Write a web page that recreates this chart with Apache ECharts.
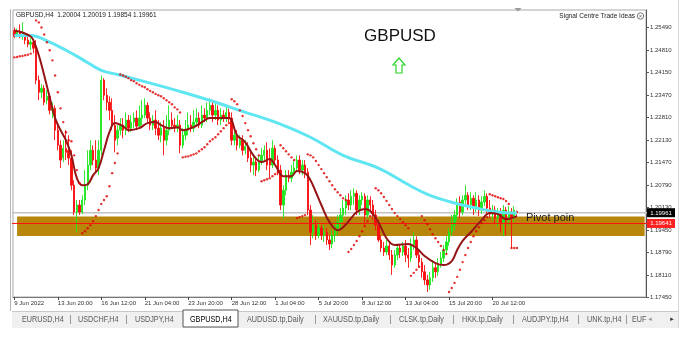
<!DOCTYPE html>
<html><head><meta charset="utf-8">
<script src="https://cdn.jsdelivr.net/npm/echarts@6/dist/echarts.min.js"></script>
<style>html,body{margin:0;padding:0;background:#fff}#c{width:688px;height:346px}</style>
</head><body><div id="c"></div>
<script>
// ---------------- DATA ----------------
const symbol = 'GBPUSD';
const timeframe = 'H4';
const lastQuote = ['1.20004', '1.20019', '1.19854', '1.19961'];
const brandText = 'Signal Centre Trade Ideas';
const pivotText = 'Pivot poin';
const xTickLabels = ['9 Jun 2022', '13 Jun 20:00', '16 Jun 12:00', '21 Jun 04:00', '23 Jun 20:00',
  '28 Jun 12:00', '1 Jul 04:00', '5 Jul 20:00', '8 Jul 12:00', '13 Jul 04:00', '15 Jul 20:00', '20 Jul 12:00'];
const xTickStep = 16; // bars between time labels
const yTickValues = [1.17450, 1.18110, 1.18790, 1.19450, 1.20130, 1.20790, 1.21470,
  1.22130, 1.22810, 1.23470, 1.24150, 1.24810, 1.25490];
const bidPrice = 1.19961;
const pivotPrice = 1.19641;
const pivotZone = [1.19265, 1.19845];
const tabs = ['EURUSD,H4', 'USDCHF,H4', 'USDJPY,H4', 'GBPUSD,H4', 'AUDUSD.tp,Daily', 'XAUUSD.tp,Daily',
  'CLSK.tp,Daily', 'HKK.tp,Daily', 'AUDJPY.tp,H4', 'UNK.tp,H4', 'EUF'];
const activeTab = 'GBPUSD,H4';

// H4 candles: [open, close, low, high]
const candles = [
[1.2539,1.2521,1.2516,1.2548],[1.2524,1.2536,1.2519,1.2545],[1.2536,1.2521,1.2516,1.2557],[1.2521,1.2527,1.2510,1.2563],
[1.2527,1.2510,1.2498,1.2533],[1.2510,1.2498,1.2489,1.2521],[1.2498,1.2504,1.2480,1.2516],[1.2504,1.2486,1.2471,1.2510],
[1.2492,1.2391,1.2379,1.2510],[1.2391,1.2355,1.2331,1.2405],[1.2355,1.2367,1.2337,1.2379],[1.2367,1.2325,1.2316,1.2376],
[1.2331,1.2343,1.2319,1.2361],[1.2343,1.2301,1.2289,1.2352],[1.2301,1.2307,1.2278,1.2325],[1.2307,1.2242,1.2212,1.2316],
[1.2242,1.2197,1.2182,1.2257],[1.2197,1.2153,1.2129,1.2212],[1.2159,1.2188,1.2147,1.2212],[1.2188,1.2176,1.2153,1.2242],
[1.2182,1.2159,1.2138,1.2227],[1.2159,1.2078,1.2063,1.2182],[1.2078,1.1998,1.1989,1.2093],[1.1998,1.2019,1.1938,1.2034],
[1.2019,1.1998,1.1989,1.2034],[1.1998,1.2034,1.1992,1.2048],[1.2034,1.2078,1.2019,1.2123],[1.2078,1.2138,1.2063,1.2182],
[1.2138,1.2182,1.2123,1.2212],[1.2182,1.2153,1.2138,1.2197],[1.2153,1.2129,1.2117,1.2212],[1.2129,1.2182,1.2108,1.2212],
[1.2182,1.2391,1.2167,1.2405],[1.2391,1.2346,1.2331,1.2397],[1.2346,1.2325,1.2301,1.2367],[1.2325,1.2301,1.2272,1.2343],
[1.2301,1.2257,1.2242,1.2337],[1.2257,1.2212,1.2176,1.2287],[1.2218,1.2242,1.2197,1.2257],[1.2242,1.2257,1.2227,1.2278],
[1.2257,1.2242,1.2218,1.2278],[1.2242,1.2272,1.2227,1.2295],[1.2272,1.2248,1.2236,1.2287],[1.2248,1.2266,1.2236,1.2287],
[1.2266,1.2278,1.2248,1.2295],[1.2278,1.2254,1.2242,1.2301],[1.2254,1.2278,1.2248,1.2316],[1.2278,1.2287,1.2257,1.2331],
[1.2287,1.2316,1.2278,1.2337],[1.2316,1.2278,1.2266,1.2325],[1.2278,1.2257,1.2242,1.2295],[1.2257,1.2272,1.2242,1.2287],
[1.2272,1.2248,1.2227,1.2301],[1.2248,1.2227,1.2212,1.2272],[1.2227,1.2248,1.2206,1.2266],[1.2248,1.2212,1.2167,1.2272],
[1.2212,1.2242,1.2197,1.2287],[1.2242,1.2272,1.2227,1.2316],[1.2272,1.2257,1.2248,1.2295],[1.2257,1.2248,1.2236,1.2278],
[1.2248,1.2257,1.2236,1.2287],[1.2257,1.2197,1.2173,1.2272],[1.2197,1.2227,1.2188,1.2248],[1.2227,1.2242,1.2212,1.2272],
[1.2242,1.2257,1.2227,1.2295],[1.2257,1.2248,1.2236,1.2287],[1.2248,1.2266,1.2236,1.2301],[1.2266,1.2278,1.2254,1.2307],
[1.2278,1.2257,1.2248,1.2295],[1.2257,1.2287,1.2248,1.2316],[1.2287,1.2278,1.2266,1.2307],[1.2278,1.2301,1.2266,1.2325],
[1.2301,1.2316,1.2287,1.2337],[1.2316,1.2287,1.2266,1.2331],[1.2287,1.2301,1.2272,1.2325],[1.2301,1.2272,1.2257,1.2316],
[1.2272,1.2287,1.2257,1.2307],[1.2287,1.2278,1.2266,1.2301],[1.2278,1.2295,1.2266,1.2316],[1.2295,1.2278,1.2266,1.2307],
[1.2278,1.2212,1.2197,1.2295],[1.2212,1.2227,1.2197,1.2248],[1.2227,1.2197,1.2182,1.2242],[1.2197,1.2212,1.2188,1.2227],
[1.2212,1.2182,1.2167,1.2227],[1.2182,1.2194,1.2170,1.2212],[1.2194,1.2159,1.2147,1.2206],[1.2159,1.2138,1.2117,1.2182],
[1.2138,1.2147,1.2108,1.2167],[1.2147,1.2123,1.2105,1.2159],[1.2123,1.2147,1.2117,1.2167],[1.2147,1.2167,1.2138,1.2188],
[1.2167,1.2182,1.2153,1.2197],[1.2182,1.2138,1.2123,1.2206],[1.2159,1.2138,1.2102,1.2188],[1.2138,1.2188,1.2129,1.2212],
[1.2188,1.2153,1.2138,1.2197],[1.2153,1.2123,1.2108,1.2167],[1.2123,1.2019,1.2004,1.2138],[1.2019,1.2063,1.1980,1.2078],
[1.2063,1.2108,1.2048,1.2123],[1.2108,1.2099,1.2087,1.2123],[1.2099,1.2117,1.2087,1.2138],[1.2117,1.2129,1.2105,1.2153],
[1.2129,1.2153,1.2117,1.2167],[1.2153,1.2123,1.2111,1.2167],[1.2123,1.2138,1.2108,1.2153],[1.2138,1.2117,1.2099,1.2153],
[1.2117,1.2004,1.1989,1.2129],[1.2004,1.1938,1.1900,1.2019],[1.1938,1.1959,1.1920,1.1989],[1.1959,1.1929,1.1915,1.1974],
[1.1929,1.1950,1.1920,1.1968],[1.1950,1.1929,1.1915,1.1959],[1.1929,1.1938,1.1909,1.1959],[1.1938,1.1915,1.1900,1.1950],
[1.1915,1.1903,1.1885,1.1929],[1.1903,1.1929,1.1891,1.1944],[1.1929,1.1950,1.1909,1.1968],[1.1950,1.1968,1.1929,1.1989],
[1.1968,1.1989,1.1950,1.2010],[1.1989,1.2010,1.1968,1.2034],[1.2010,1.2034,1.1989,1.2048],[1.2034,1.2019,1.2004,1.2054],
[1.2019,1.2045,1.2004,1.2063],[1.2045,1.2054,1.2019,1.2069],[1.2054,1.2004,1.1989,1.2063],[1.2004,1.2034,1.1989,1.2048],
[1.2034,1.2045,1.2019,1.2057],[1.2045,1.1989,1.1959,1.2054],[1.1989,1.2034,1.1980,1.2048],[1.2034,1.2019,1.2004,1.2045],
[1.2019,1.1989,1.1974,1.2034],[1.1989,1.1959,1.1944,1.2004],[1.1959,1.1915,1.1909,1.1974],[1.1915,1.1891,1.1879,1.1929],
[1.1891,1.1879,1.1867,1.1909],[1.1879,1.1897,1.1870,1.1915],[1.1897,1.1870,1.1855,1.1909],[1.1870,1.1840,1.1811,1.1885],
[1.1840,1.1870,1.1832,1.1885],[1.1870,1.1891,1.1855,1.1900],[1.1891,1.1879,1.1861,1.1903],[1.1879,1.1897,1.1867,1.1909],
[1.1897,1.1870,1.1849,1.1915],[1.1870,1.1861,1.1832,1.1891],[1.1861,1.1900,1.1849,1.1920],[1.1900,1.1915,1.1885,1.1938],
[1.1915,1.1870,1.1861,1.1926],[1.1870,1.1849,1.1832,1.1885],[1.1849,1.1820,1.1802,1.1861],[1.1820,1.1796,1.1781,1.1840],
[1.1796,1.1781,1.1760,1.1811],[1.1781,1.1802,1.1766,1.1820],[1.1802,1.1832,1.1790,1.1855],[1.1832,1.1820,1.1802,1.1849],
[1.1820,1.1843,1.1808,1.1861],[1.1843,1.1861,1.1832,1.1879],[1.1861,1.1885,1.1849,1.1900],[1.1885,1.1909,1.1873,1.1926],
[1.1909,1.1938,1.1897,1.1950],[1.1938,1.1959,1.1926,1.1989],[1.1959,1.1989,1.1944,1.2004],[1.1989,1.2028,1.1974,1.2039],
[1.2028,1.1998,1.1980,1.2045],[1.1998,1.2034,1.1989,1.2048],[1.2034,1.2048,1.2016,1.2078],[1.2048,1.2019,1.2004,1.2057],
[1.2019,1.2039,1.2004,1.2057],[1.2039,1.2010,1.1989,1.2048],[1.2010,1.2034,1.1998,1.2057],[1.2034,1.2004,1.1986,1.2048],
[1.2004,1.2028,1.1992,1.2045],[1.2028,1.2045,1.2016,1.2063],[1.2045,1.2010,1.1995,1.2054],[1.2010,1.1992,1.1980,1.2034],
[1.1992,1.2004,1.1974,1.2019],[1.2004,1.1980,1.1962,1.2016],[1.1980,1.1998,1.1956,1.2010],[1.1998,1.1968,1.1938,1.2010],
[1.1968,1.2004,1.1926,1.2019],[1.2004,1.1974,1.1929,1.2013],[1.1974,1.1998,1.1959,1.2016],[1.1998,1.1980,1.1891,1.2010],
[1.1980,1.2004,1.1968,1.2016],[1.20004,1.19961,1.19854,1.20019]
];

// Long moving average (cyan), read at bar indices
const maSlow = [[0,1.2524],[6,1.2524],[13,1.2504],[19,1.2480],[25,1.2453],[32,1.2420],[38,1.2408],[50,1.2382],
  [62,1.2355],[73,1.2328],[84,1.2298],[97,1.2263],[109,1.2221],[121,1.2167],[134,1.2129],[146,1.2075],
  [153,1.2048],[162,1.2025],[170,1.2010],[178,1.1998],[185,1.1995]];
// Short moving average (dark red)
const maFast = [[0,1.2539],[3,1.2533],[6,1.2521],[7,1.2510],[9,1.2465],[11,1.2405],[13,1.2340],[15,1.2278],
  [17,1.2242],[19,1.2212],[21,1.2167],[23,1.2099],[25,1.2078],[27,1.2081],[29,1.2108],[31,1.2129],[33,1.2182],
  [35,1.2236],[37,1.2263],[40,1.2254],[42,1.2242],[46,1.2248],[49,1.2263],[52,1.2266],[54,1.2257],[57,1.2248],
  [60,1.2251],[62,1.2242],[66,1.2251],[69,1.2266],[72,1.2278],[76,1.2278],[79,1.2278],[82,1.2227],[85,1.2206],
  [88,1.2167],[91,1.2147],[94,1.2156],[96,1.2138],[99,1.2105],[102,1.2105],[104,1.2120],[107,1.2114],[109,1.2093],
  [111,1.2057],[113,1.2019],[116,1.1968],[119,1.1944],[121,1.1953],[124,1.1980],[126,1.1998],[129,1.2007],
  [131,1.2001],[134,1.1968],[137,1.1920],[140,1.1900],[145,1.1903],[148,1.1891],[151,1.1867],[155,1.1846],
  [158,1.1840],[161,1.1852],[163,1.1885],[165,1.1912],[168,1.1938],[172,1.1974],[175,1.1995],[178,1.1992],
  [181,1.1977],[185,1.1986]];
// Parabolic SAR: [first bar index, values per bar]
const sarSegments = [
  [0,   [1.2459,1.2460,1.2462,1.2463,1.2465,1.2467,1.2470]],
  [8,   [1.2569,1.2563,1.2548,1.2527,1.2504,1.2480,1.2450,1.2405,1.2355,1.2307,1.2266,1.2236,1.2212,1.2209,1.2167,1.2123,1.2084]],
  [25,  [1.1935,1.1941,1.1950,1.1959,1.1971,1.1986,1.2004,1.2022,1.2034,1.2045,1.2075,1.2114,1.2144,1.2173]],
  [39,  [1.2408,1.2405,1.2401,1.2397,1.2391,1.2388,1.2382,1.2377,1.2373,1.2370,1.2364,1.2359,1.2355,1.2350,1.2346,1.2343,1.2337,1.2331,1.2325,1.2319,1.2310,1.2304,1.2295]],
  [62,  [1.2161,1.2163,1.2164,1.2167,1.2170,1.2173,1.2179,1.2185,1.2191,1.2200,1.2209,1.2215,1.2221,1.2230,1.2239,1.2248,1.2257,1.2263]],
  [80,  [1.2334,1.2328,1.2319,1.2301,1.2284,1.2263,1.2242,1.2224,1.2203,1.2185,1.2167]],
  [91,  [1.2090,1.2093,1.2096,1.2099,1.2105,1.2111,1.2117]],
  [98,  [1.2197,1.2188,1.2179,1.2170,1.2161,1.2153]],
  [104, [1.1980,1.1983,1.1986,1.1989]],
  [108, [1.2170,1.2167,1.2161,1.2150,1.2138,1.2126,1.2114,1.2102,1.2090,1.2078,1.2066,1.2057,1.2048,1.2039,1.2034]],
  [123, [1.1879,1.1888,1.1900,1.1912,1.1926,1.1941,1.1956,1.1971,1.1986,1.1995]],
  [133, [1.2069,1.2063,1.2054,1.2043,1.2031,1.2019,1.2007,1.1995,1.1986,1.1977,1.1968,1.1959,1.1950]],
  [146, [1.1808,1.1817,1.1826,1.1835]],
  [150, [1.1986,1.1974,1.1962,1.1947,1.1932,1.1920,1.1909,1.1897,1.1885,1.1873]],
  [160, [1.1760,1.1772,1.1787,1.1805,1.1826,1.1849,1.1870,1.1891,1.1909,1.1926,1.1941,1.1953,1.1965,1.1974,1.1983]],
  [175, [1.2051,1.2048,1.2045,1.2042,1.2039,1.2037,1.2031,1.2022]],
  [183, [1.1891,1.1891,1.1891]]
];

// ---------------- BUILD ----------------
const visibleBars = 233;
const MON = ['Jan','Feb','Mar','Apr','May','Jun','Jul','Aug','Sep','Oct','Nov','Dec'];
const categories = [];
let t = Date.UTC(2022, 5, 9, 4);
while (categories.length < visibleBars) {
  const d = new Date(t);
  const wd = d.getUTCDay();
  if (wd !== 0 && wd !== 6) {
    categories.push(d.getUTCDate() + ' ' + MON[d.getUTCMonth()] + ' ' + d.getUTCFullYear() + ' ' +
      String(d.getUTCHours()).padStart(2, '0') + ':00');
  }
  t += 4 * 3600 * 1000;
}
const sarPoints = [];
sarSegments.forEach(([s, vals]) => vals.forEach((v, k) => sarPoints.push([s + k, v])));
// horizontal price lines spanning the whole plot (clipped by the grid)
const hLine = (v) => [[-2, v], [visibleBars + 1, v]];

const FONT = 'Liberation Sans, Arial, sans-serif';
const showTick = (i) => i % xTickStep === 0 && i / xTickStep < xTickLabels.length;

const chart = echarts.init(document.getElementById('c'), null, {renderer:'canvas'});
chart.setOption({
  animation:false,
  backgroundColor:'#fff',
  grid:{left:13, right:42, top:10, bottom:49, show:true, borderColor:'#a8a8a8', borderWidth:1, backgroundColor:'#fff'},
  xAxis:{
    type:'category', data:categories, boundaryGap:true,
    axisLine:{show:true, onZero:false, lineStyle:{color:'#777', width:1}},
    axisTick:{show:true, alignWithLabel:true, interval:showTick, length:3, lineStyle:{color:'#444'}},
    axisLabel:{interval:showTick, formatter:(v, i) => xTickLabels[Math.round(i / xTickStep)],
      align:'left', fontSize:6, fontFamily:FONT, color:'#333', margin:3},
    splitLine:{show:false}
  },
  yAxis:{
    type:'value', position:'right', min:1.1745, max:1.2600,
    axisLine:{show:true, onZero:false, lineStyle:{color:'#555', width:1}},
    axisTick:{show:true, length:3, customValues:yTickValues, lineStyle:{color:'#555'}},
    axisLabel:{customValues:yTickValues, formatter:v => v.toFixed(5), fontSize:6, fontFamily:FONT, color:'#333', margin:4},
    splitLine:{show:false}
  },
  series:[
    {
      type:'candlestick', name:symbol, data:candles, z:3,
      barWidth:1.9,
      itemStyle:{color:'#1fe61f', color0:'#f80f0f', borderColor:'#1fe61f', borderColor0:'#f80f0f', borderWidth:0.9},
      markArea:{silent:true, z:1, itemStyle:{color:'#b8860b', opacity:1},
        data:[[{xAxis:categories[1], yAxis:pivotZone[1]}, {xAxis:categories[categories.length - 1], yAxis:pivotZone[0]}]]}
    },
    {type:'line', name:'Bid', data:hLine(bidPrice), clip:true, showSymbol:false, silent:true, z:2,
      lineStyle:{color:'#c2c2c2', width:1.6}},
    {type:'line', name:'Pivot', data:hLine(pivotPrice), clip:true, showSymbol:false, silent:true, z:4,
      lineStyle:{color:'#ff1010', width:1}},
    {type:'line', name:'MA slow', data:maSlow, smooth:0.4, showSymbol:false, z:5,
      lineStyle:{color:'#5fe6f2', width:3}},
    {type:'line', name:'MA fast', data:maFast, smooth:0.4, showSymbol:false, z:6,
      lineStyle:{color:'#951515', width:2}},
    {type:'scatter', name:'SAR', data:sarPoints, symbol:'circle', symbolSize:2.4, z:7,
      itemStyle:{color:'#e00000'}}
  ]
});

// ---- overlay texts / window decoration (price boxes placed through the axis scale) ----
const yBid = chart.convertToPixel({yAxisIndex:0}, bidPrice);
const yPiv = chart.convertToPixel({yAxisIndex:0}, pivotPrice);
const tabX = [22, 78, 135, 190, 247, 323, 399, 462, 522, 587, 632];
const sepX = [70, 126, 315, 390, 453, 513, 578, 626];
const graphic = [
  {type:'line', z:10, shape:{x1:10.5, y1:9, x2:10.5, y2:311}, style:{stroke:'#b4b4b4', lineWidth:1}},
  {type:'line', z:10, shape:{x1:678.5, y1:0, x2:678.5, y2:328}, style:{stroke:'#d8d8d8', lineWidth:1}},
  {type:'text', z:10, x:16, y:15.5, style:{text: symbol + ',' + timeframe + '  ' + lastQuote.join(' '),
    fontSize:6.5, fontFamily:FONT, fill:'#222', verticalAlign:'middle'}},
  {type:'text', z:10, x:635, y:16, style:{text:brandText, fontSize:6.5, fontFamily:FONT, fill:'#222',
    align:'right', verticalAlign:'middle'}},
  {type:'circle', z:10, shape:{cx:640.5, cy:16, r:3.2}, style:{fill:'#fff', stroke:'#555', lineWidth:0.8}},
  {type:'text', z:11, x:640.5, y:16.3, style:{text:'×', fontSize:6, fontFamily:FONT, fill:'#555', align:'center', verticalAlign:'middle'}},
  {type:'polygon', z:10, shape:{points:[[514.5,8],[521.5,8],[518,11.5]]}, style:{fill:'#9a9a9a'}},
  {type:'text', z:10, x:400, y:36, style:{text:symbol, fontSize:17, fontFamily:FONT, fill:'#111',
    align:'center', verticalAlign:'middle'}},
  {type:'polygon', z:10, shape:{points:[[399,58],[393,65],[396,65],[396,73],[402,73],[402,65],[405,65]]},
    style:{fill:'#fff', stroke:'#2bd62b', lineWidth:1.2}},
  {type:'text', z:10, x:526, y:217.5, style:{text:pivotText, fontSize:11, fontFamily:FONT, fill:'#1c1c1c', verticalAlign:'middle'}},
  {type:'rect', z:20, shape:{x:647, y:yBid - 4.5, width:28, height:9}, style:{fill:'#000'}},
  {type:'text', z:21, x:661, y:yBid + 0.3, style:{text:bidPrice.toFixed(5), fontSize:6, fontFamily:FONT, fill:'#fff', align:'center', verticalAlign:'middle'}},
  {type:'rect', z:20, shape:{x:647, y:yPiv - 4.5, width:28, height:9}, style:{fill:'#ff2020'}},
  {type:'text', z:21, x:661, y:yPiv + 0.3, style:{text:pivotPrice.toFixed(5), fontSize:6, fontFamily:FONT, fill:'#fff', align:'center', verticalAlign:'middle'}},
  {type:'rect', z:5, shape:{x:12, y:311, width:666, height:17}, style:{fill:'#f0f0f0'}},
  {type:'line', z:6, shape:{x1:12, y1:311.5, x2:678, y2:311.5}, style:{stroke:'#c8c8c8', lineWidth:1}},
  {type:'rect', z:7, shape:{x:183, y:310, width:55, height:17}, style:{fill:'#fff', stroke:'#555', lineWidth:1}},
  {type:'text', z:10, x:650, y:319.5, style:{text:'◂', fontSize:7, fontFamily:'DejaVu Sans', fill:'#999', align:'center', verticalAlign:'middle'}},
  {type:'text', z:10, x:672, y:319.5, style:{text:'▸', fontSize:7, fontFamily:'DejaVu Sans', fill:'#333', align:'center', verticalAlign:'middle'}}
];
tabs.forEach((name, i) => {
  graphic.push({type:'text', z:10, x:tabX[i], y:319.5, scaleX:0.85,
    style:{text:name, fontSize:8.5, fontFamily:FONT, fill: name === activeTab ? '#000' : '#5a5a5a', verticalAlign:'middle'}});
});
sepX.forEach(x => graphic.push({type:'line', z:10, shape:{x1:x+0.5, y1:315, x2:x+0.5, y2:324}, style:{stroke:'#999', lineWidth:1}}));
chart.setOption({graphic: graphic});
</script>
</body></html>
